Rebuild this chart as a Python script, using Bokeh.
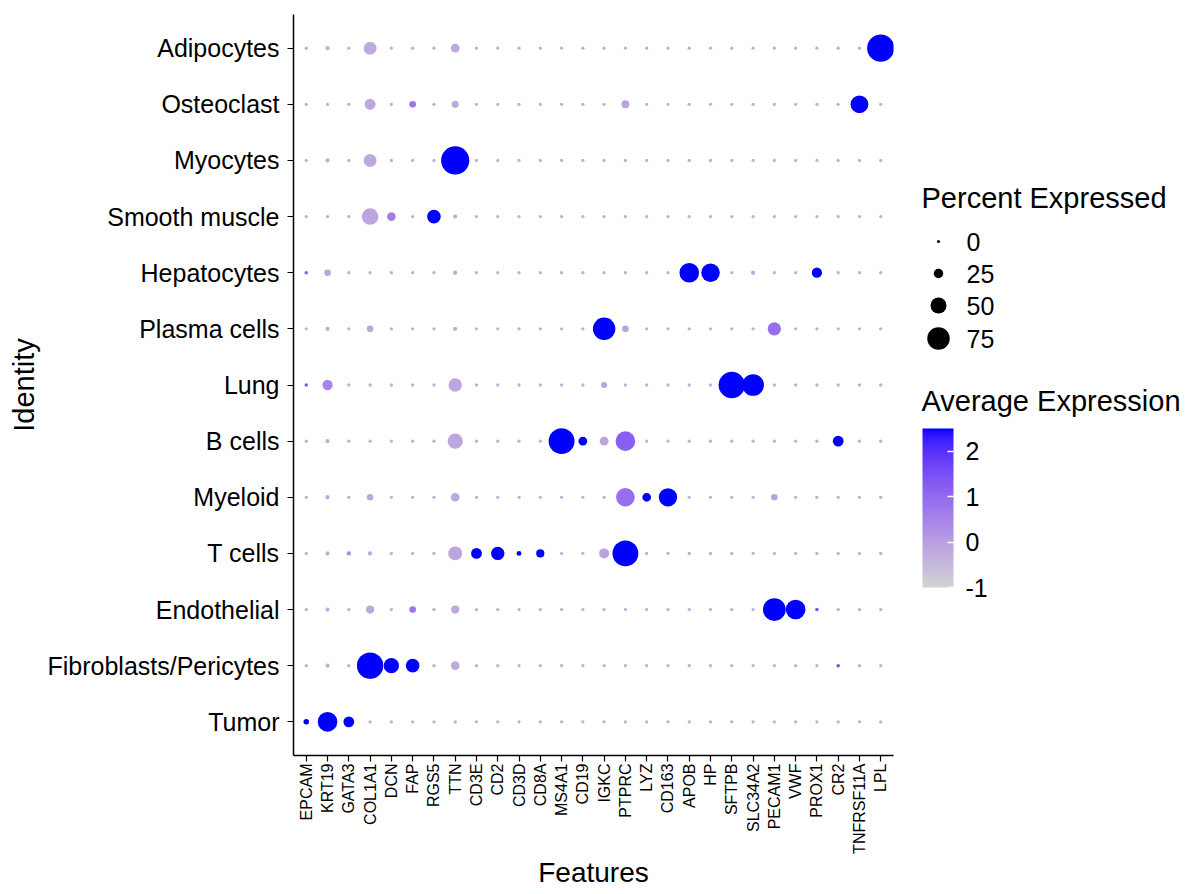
import math
from bokeh.plotting import figure
from bokeh.models import (FactorRange, Range1d, ColumnDataSource, LinearColorMapper,
                          ColorBar, FixedTicker)
from bokeh.layouts import row
from bokeh.embed import file_html
from bokeh.resources import INLINE
from bokeh.core.properties import value

# ---------------- data ----------------
genes = ["EPCAM", "KRT19", "GATA3", "COL1A1", "DCN", "FAP", "RGS5", "TTN", "CD3E", "CD2",
         "CD3D", "CD8A", "MS4A1", "CD19", "IGKC", "PTPRC", "LYZ", "CD163", "APOB", "HP",
         "SFTPB", "SLC34A2", "PECAM1", "VWF", "PROX1", "CR2", "TNFRSF11A", "LPL"]

# bottom to top
identities = ["Tumor", "Fibroblasts/Pericytes", "Endothelial", "T cells", "Myeloid", "B cells",
              "Lung", "Plasma cells", "Hepatocytes", "Smooth muscle", "Myocytes", "Osteoclast",
              "Adipocytes"]

#                  EPC KRT GAT COL DCN FAP RGS TTN 3E  CD2 3D  8A  MS4 C19 IGK PTP LYZ 163 APO HP  SFT SLC PEC VWF PRO CR2 TNF LPL
pct_tumor       = [10, 64, 30,  1,  1,  1,  1,  1,  1,  1,  1,  1,  1,  1,  1,  1,  1,  1,  1,  1,  1,  1,  1,  1,  1,  1,  1,  1]
pct_fibro       = [1,  5,  1, 90, 47, 41,  1, 22,  1,  1,  1,  1,  1,  1,  1,  1,  1,  1,  1,  1,  1,  1,  1,  1,  1,  2,  1,  1]
pct_endo        = [1,  5,  1, 20,  1, 14,  1, 20,  1,  1,  1,  1,  1,  1,  1,  1,  1,  1,  1,  1,  1,  1, 76, 64,  2,  1,  1,  1]
pct_tcell       = [1,  5,  5,  5,  1,  1,  1, 42, 30, 40,  7, 20,  1,  1, 27, 88,  1,  1,  1,  1,  1,  1,  1,  1,  1,  1,  1,  1]
pct_myeloid     = [1,  5,  1, 14,  1,  1,  1, 22,  1,  1,  1,  1,  1,  1,  1, 60, 22, 59,  1,  1,  1,  1, 14,  1,  1,  1,  1,  1]
pct_bcell       = [1,  5,  1,  1,  1,  1,  1, 47,  1,  1,  1,  1, 88, 22, 22, 64,  1,  1,  1,  1,  1,  1,  1,  1,  1, 30,  1,  1]
pct_lung        = [2, 28,  1,  1,  1,  1,  1, 40,  1,  1,  1,  1,  1,  1, 12,  1,  1,  1,  1,  1, 90, 72,  1,  1,  1,  1,  1,  1]
pct_plasma      = [1,  5,  1, 14,  1,  1,  1,  5,  1,  1,  1,  1,  1,  1, 75, 14,  1,  1,  1,  1,  1,  1, 40,  1,  1,  1,  1,  1]
pct_hepato      = [2, 14,  1,  1,  1,  1,  1,  5,  1,  1,  1,  1,  1,  1,  1,  1,  1,  1, 64, 60,  1,  5,  1,  1, 28,  1,  1,  1]
pct_smooth      = [1,  1,  1, 52, 22,  1, 41,  5,  1,  1,  1,  1,  1,  1,  1,  1,  1,  1,  1,  1,  1,  1,  1,  1,  1,  1,  1,  1]
pct_myocyte     = [1,  5,  1, 38,  1,  1,  1, 97,  1,  1,  1,  1,  1,  1,  1,  1,  1,  1,  1,  1,  1,  1,  1,  1,  1,  1,  1,  1]
pct_osteo       = [1,  1,  1, 31,  1, 14,  1, 16,  1,  1,  1,  1,  1,  1,  1, 19,  1,  1,  1,  1,  1,  1,  1,  1,  1,  1, 57,  1]
pct_adipo       = [1,  5,  1, 38,  1,  1,  1, 22,  1,  1,  1,  1,  1,  1,  1,  1,  1,  1,  1,  1,  1,  1,  1,  1,  1,  1,  1, 93]

B = -0.28
avg_tumor   = [2.5, 2.5, 2.5, B, B, B, B, B, B, B, B, B, B, B, B, B, B, B, B, B, B, B, B, B, B, B, B, B]
avg_fibro   = [B, B, B, 2.5, 2.5, 2.5, B, -0.2, B, B, B, B, B, B, B, B, B, B, B, B, B, B, B, B, B, 1.5, B, B]
avg_endo    = [B, B, B, -0.2, B, 0.8, B, -0.2, B, B, B, B, B, B, B, B, B, B, B, B, B, B, 2.5, 2.5, 1.5, B, B, B]
avg_tcell   = [B, B, 0.4, -0.15, B, B, B, -0.15, 2.5, 2.5, 2.5, 2.5, B, B, -0.1, 2.5, B, B, B, B, B, B, B, B, B, B, B, B]
avg_myeloid = [B, B, B, -0.2, B, B, B, -0.2, B, B, B, B, B, B, B, 0.9, 2.5, 2.5, B, B, B, B, -0.1, B, B, B, B, B]
avg_bcell   = [B, B, B, B, B, B, B, -0.15, B, B, B, B, 2.5, 2.5, -0.1, 1.2, B, B, B, B, B, B, B, B, B, 2.5, B, B]
avg_lung    = [1.3, 0.5, B, B, B, B, B, -0.15, B, B, B, B, B, B, -0.1, B, B, B, B, B, 2.5, 2.5, B, B, B, B, B, B]
avg_plasma  = [B, B, B, -0.2, B, B, B, B, B, B, B, B, B, B, 2.5, -0.1, B, B, B, B, B, B, 0.9, B, B, B, B, B]
avg_hepato  = [1.3, -0.1, B, B, B, B, B, B, B, B, B, B, B, B, B, B, B, B, 2.5, 2.5, B, B, B, B, 2.5, B, B, B]
avg_smooth  = [B, B, B, -0.15, 0.6, B, 2.5, B, B, B, B, B, B, B, B, B, B, B, B, B, B, B, B, B, B, B, B, B]
avg_myocyte = [B, B, B, -0.2, B, B, B, 2.5, B, B, B, B, B, B, B, B, B, B, B, B, B, B, B, B, B, B, B, B]
avg_osteo   = [B, B, B, -0.2, B, 0.8, B, -0.2, B, B, B, B, B, B, B, -0.1, B, B, B, B, B, B, B, B, B, B, 2.5, B]
avg_adipo   = [B, B, B, -0.2, B, B, B, -0.2, B, B, B, B, B, B, B, B, B, B, B, B, B, B, B, B, B, B, B, 2.5]

pct_rows = [pct_tumor, pct_fibro, pct_endo, pct_tcell, pct_myeloid, pct_bcell, pct_lung,
            pct_plasma, pct_hepato, pct_smooth, pct_myocyte, pct_osteo, pct_adipo]
avg_rows = [avg_tumor, avg_fibro, avg_endo, avg_tcell, avg_myeloid, avg_bcell, avg_lung,
            avg_plasma, avg_hepato, avg_smooth, avg_myocyte, avg_osteo, avg_adipo]

size_breaks = [0, 25, 50, 75]
color_ticks = [-1, 0, 1, 2]
color_low, color_high = -1.0, 2.5

FONT = "Liberation Sans"

# ---------------- colour scale (Lab interpolation lightgrey -> blue) ----------------
def _to_lin(c):
    return c / 12.92 if c <= 0.04045 else ((c + 0.055) / 1.055) ** 2.4

def _from_lin(c):
    c = min(max(c, 0.0), 1.0)
    return 12.92 * c if c <= 0.0031308 else 1.055 * c ** (1 / 2.4) - 0.055

_WN = (0.95047, 1.0, 1.08883)
_D = 6 / 29

def hex_to_lab(h):
    r, g, b = (_to_lin(int(h[i:i + 2], 16) / 255) for i in (1, 3, 5))
    X = 0.4124564 * r + 0.3575761 * g + 0.1804375 * b
    Y = 0.2126729 * r + 0.7151522 * g + 0.0721750 * b
    Z = 0.0193339 * r + 0.1191920 * g + 0.9503041 * b
    f = lambda t: t ** (1 / 3) if t > _D ** 3 else t / (3 * _D ** 2) + 4 / 29
    fx, fy, fz = f(X / _WN[0]), f(Y / _WN[1]), f(Z / _WN[2])
    return 116 * fy - 16, 500 * (fx - fy), 200 * (fy - fz)

def lab_to_hex(L, a, b):
    fy = (L + 16) / 116
    fx = fy + a / 500
    fz = fy - b / 200
    fi = lambda t: t ** 3 if t > _D else 3 * _D ** 2 * (t - 4 / 29)
    X, Y, Z = _WN[0] * fi(fx), _WN[1] * fi(fy), _WN[2] * fi(fz)
    r = 3.2404542 * X - 1.5371385 * Y - 0.4985314 * Z
    g = -0.9692660 * X + 1.8760108 * Y + 0.0415560 * Z
    bb = 0.0556434 * X - 0.2040259 * Y + 1.0572252 * Z
    return "#%02x%02x%02x" % tuple(int(round(_from_lin(c) * 255)) for c in (r, g, bb))

lab0, lab1 = hex_to_lab("#D3D3D3"), hex_to_lab("#0000FF")
palette = [lab_to_hex(*[lab0[k] + (lab1[k] - lab0[k]) * i / 255 for k in range(3)]) for i in range(256)]
mapper = LinearColorMapper(palette=palette, low=color_low, high=color_high)

def dot_size(p):
    return 3 + 0.26 * p

# ---------------- layout constants ----------------
H = 894
TOP, BOTTOM = 14, 139
MAIN_W, LEG_W = 903, 293

# ---------------- main plot ----------------
xs, ys, ps, avs, sz = [], [], [], [], []
for ident, prow, arow in zip(identities, pct_rows, avg_rows):
    for g, pv, av in zip(genes, prow, arow):
        xs.append(g); ys.append(ident); ps.append(pv); avs.append(av); sz.append(dot_size(pv))
src = ColumnDataSource(dict(gene=xs, ident=ys, pct=ps, avg=avs, size=sz))

p = figure(x_range=FactorRange(factors=genes, range_padding=0.1, range_padding_units="absolute"),
           y_range=FactorRange(factors=identities, range_padding=0.1, range_padding_units="absolute"),
           width=MAIN_W, height=H, output_backend="svg", toolbar_location=None,
           title_location=None,
           min_border_left=293, min_border_right=10, min_border_top=TOP, min_border_bottom=BOTTOM)
p.scatter(x="gene", y="ident", size="size", source=src,
          fill_color={"field": "avg", "transform": mapper}, line_color=None)

p.outline_line_color = None
p.xgrid.visible = False
p.ygrid.visible = False
for ax in (p.xaxis[0], p.yaxis[0]):
    ax.axis_line_color = "black"
    ax.axis_line_width = 1.5
    ax.major_tick_line_color = "black"
    ax.major_tick_line_width = 1.2
    ax.major_tick_out = 6
    ax.major_tick_in = 0
    ax.major_label_text_font = FONT
    ax.major_label_text_color = "black"
    ax.axis_label_text_font = FONT
    ax.axis_label_text_font_style = "normal"
    ax.axis_label_text_color = "black"
    ax.axis_label_text_font_size = "29px"

p.xaxis.axis_label = "Features"
p.xaxis.axis_label_text_font_size = "28px"
p.xaxis.major_label_orientation = math.pi / 2
p.xaxis.major_label_text_font_size = "16px"
p.xaxis.major_label_standoff = 2
p.xaxis.axis_label_standoff = 0
p.yaxis.axis_label = "Identity"
p.yaxis.major_label_text_font_size = "25px"
p.yaxis.major_label_standoff = 8
p.yaxis.axis_label_standoff = 4

# ---------------- legend panel (coordinates = canvas pixels) ----------------
frame_bottom = H - BOTTOM
lg = figure(width=LEG_W, height=H, x_range=Range1d(0, LEG_W), y_range=Range1d(frame_bottom, TOP),
            output_backend="svg", toolbar_location=None, title_location=None,
            min_border_left=0, min_border_right=0, min_border_top=TOP, min_border_bottom=BOTTOM,
            x_axis_location=None, y_axis_location=None)
lg.outline_line_color = None
lg.xgrid.visible = False
lg.ygrid.visible = False

lg.text(x=[18], y=[197], text=["Percent Expressed"], text_font=value(FONT),
        text_font_size="29px", text_baseline="middle", text_color="black")
leg_y = [241, 273, 305, 338]
leg_src = ColumnDataSource(dict(x=[35] * 4, y=leg_y, s=[dot_size(v) for v in size_breaks],
                                lab=[str(v) for v in size_breaks], lx=[63] * 4))
lg.scatter(x="x", y="y", size="s", source=leg_src, fill_color="black", line_color=None)
lg.text(x="lx", y="y", text="lab", source=leg_src, text_font=value(FONT),
        text_font_size="25px", text_baseline="middle", text_color="black")

lg.text(x=[18], y=[400], text=["Average Expression"], text_font=value(FONT),
        text_font_size="29px", text_baseline="middle", text_color="black")

cb = ColorBar(color_mapper=mapper, ticker=FixedTicker(ticks=color_ticks),
              major_label_overrides={t: str(t) for t in color_ticks},
              width=31, height=159, location=(19, frame_bottom - 587), padding=0,
              label_standoff=12, major_label_text_font=FONT, major_label_text_font_size="25px",
              major_label_text_color="black", major_tick_line_color="white",
              major_tick_line_width=1.5, major_tick_in=6, major_tick_out=0,
              bar_line_color=None, border_line_color=None, background_fill_alpha=0)
lg.add_layout(cb, "center")

layout = row(p, lg)
open("out.html", "w").write(file_html(layout, INLINE))
